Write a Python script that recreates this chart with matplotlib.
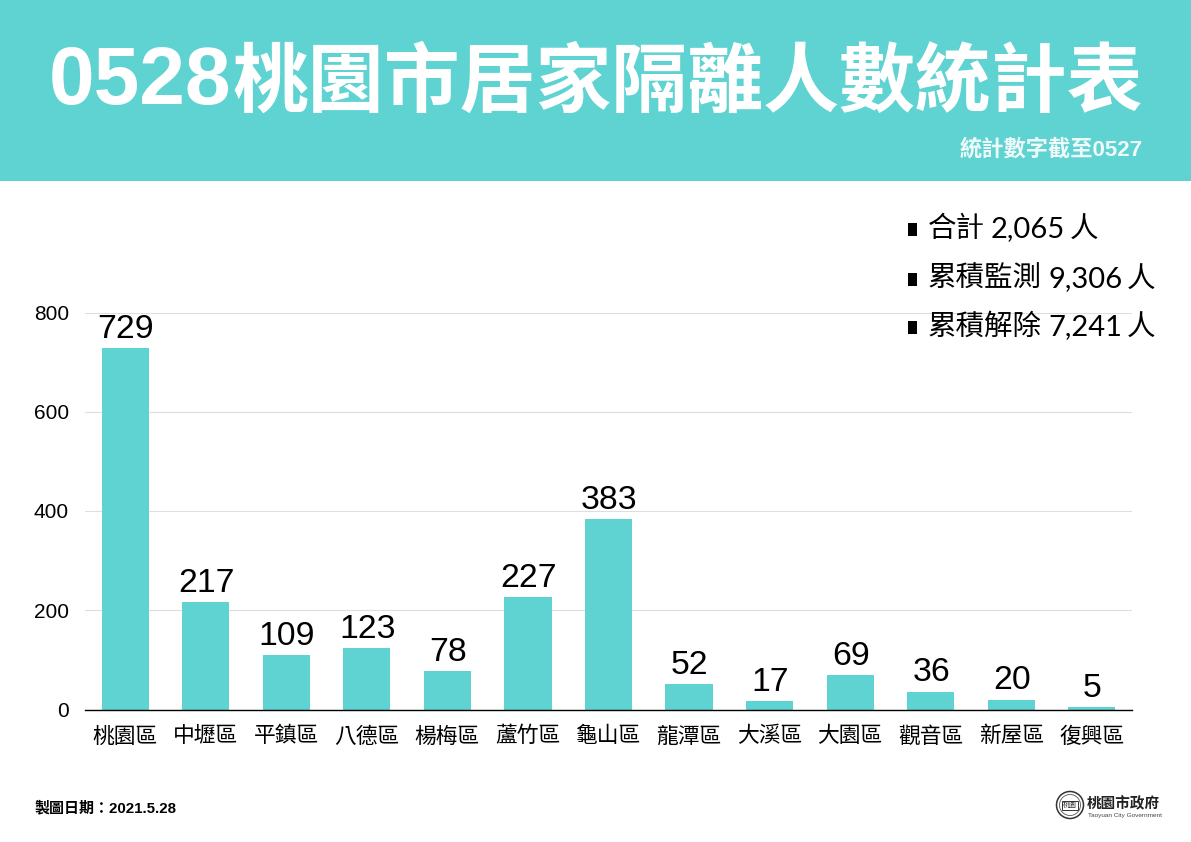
import matplotlib
matplotlib.use('Agg')
import matplotlib.pyplot as plt
from matplotlib.patches import Rectangle, Circle

plt.rcParams['font.family'] = ['Noto Sans CJK TC', 'DejaVu Sans']

W, H = 1191, 842
TEAL = '#5fd2d2'
LATIN_CJK = ['Liberation Sans', 'Noto Sans CJK TC']

districts = ['桃園區', '中壢區', '平鎮區', '八德區', '楊梅區', '蘆竹區', '龜山區',
             '龍潭區', '大溪區', '大園區', '觀音區', '新屋區', '復興區']
counts = [729, 217, 109, 123, 78, 227, 383, 52, 17, 69, 36, 20, 5]
y_ticks = [0, 200, 400, 600, 800]
summary = [('合計', '2,065'), ('累積監測', '9,306'), ('累積解除', '7,241')]
title_date = '0528'
title = '桃園市居家隔離人數統計表'
subtitle = '統計數字截至0527'
made_date = '製圖日期：2021.5.28'


def fx(px):
    return px / W


def fy(py):
    return 1 - py / H


fig = plt.figure(figsize=(W / 100, H / 100), dpi=100, facecolor='white')
renderer = fig.canvas.get_renderer()

# header band
fig.patches.append(Rectangle((0, fy(181)), 1, 181 / H, transform=fig.transFigure,
                             facecolor=TEAL, edgecolor='none', zorder=0))
fig.text(fx(49), fy(83), title_date, color='white', fontsize=59, fontweight='bold',
         ha='left', va='center', family=['Liberation Sans', 'DejaVu Sans'])
fig.text(fx(1143), fy(83), title, color='white', fontsize=54.6, fontweight='bold',
         ha='right', va='center')
fig.text(fx(1143), fy(150), subtitle, color='white', fontsize=16, fontweight='bold',
         ha='right', va='center', alpha=0.9, family=LATIN_CJK)

# bars
ax = fig.add_axes([fx(85), fy(709.5), 1047 / W, 397 / H])
ax.bar(range(len(counts)), counts, width=0.585, color=TEAL, zorder=2)
ax.set_xlim(-0.5, len(counts) - 0.5)
ax.set_ylim(0, 800)
ax.set_yticks(y_ticks)
ax.set_xticks(range(len(districts)))
ax.set_xticklabels(districts)
ax.tick_params(axis='x', length=0, labelsize=15.7, pad=11.5)
ax.tick_params(axis='y', length=0, labelsize=15, pad=11.5)
for lab in ax.get_yticklabels():
    lab.set_family(['Liberation Sans', 'DejaVu Sans'])
ax.grid(axis='y', color='#dedede', linewidth=0.8, zorder=0)
ax.set_axisbelow(True)
for s in ['top', 'left', 'right']:
    ax.spines[s].set_visible(False)
ax.spines['bottom'].set_color('black')
ax.spines['bottom'].set_linewidth(1.0)
ax.patch.set_alpha(0)

for i, v in enumerate(counts):
    ax.annotate(str(v), (i, v), xytext=(0.4, 2.3), textcoords='offset points', ha='center',
                va='bottom', fontsize=24.3, family=['Liberation Sans', 'DejaVu Sans'],
                zorder=3)

# summary top right
for (name, num), py in zip(summary, [229, 279, 327]):
    fig.patches.append(Rectangle((fx(908), fy(py + 7)), 9 / W, 13 / H,
                                 transform=fig.transFigure, facecolor='black',
                                 edgecolor='none', zorder=5))
    t = fig.text(fx(928), fy(py), name, fontsize=20.5, ha='left', va='center', zorder=6)
    bb = t.get_window_extent(renderer)
    t2 = fig.text(fx(bb.x1 + 6), fy(py), num, fontsize=21, ha='left', va='center',
                  family=['Lato', 'DejaVu Sans'], zorder=6)
    bb2 = t2.get_window_extent(renderer)
    fig.text(fx(bb2.x1 + 5), fy(py), '人', fontsize=20.5, ha='left', va='center', zorder=6)

# footer
fig.text(fx(34), fy(808), made_date, fontsize=10.8, fontweight='bold', ha='left', va='center',
         family=LATIN_CJK)

# city logo
cx, cy = 1070, 805
logo = fig.add_axes([0, 0, 1, 1], zorder=7)
logo.set_xlim(0, W)
logo.set_ylim(H, 0)
logo.axis('off')
logo.add_patch(Circle((cx, cy), 13.5, facecolor='none', edgecolor='#333333', linewidth=1.1))
logo.add_patch(Circle((cx, cy), 10.5, facecolor='none', edgecolor='#555555', linewidth=0.6))
logo.add_patch(Rectangle((cx - 8, cy - 4.5), 16, 9, facecolor='white', edgecolor='#333333',
                         linewidth=0.7))
logo.text(cx, cy, '桃園', fontsize=5, ha='center', va='center', color='#333333')
logo.text(1087, 803, '桃園市政府', fontsize=10.5, fontweight='bold', ha='left', va='center',
          color='#222222')
logo.text(1088, 816, 'Taoyuan City Government', fontsize=4.6, ha='left', va='center',
          color='#444444', family=['Liberation Sans', 'DejaVu Sans'])

fig.savefig('out.png', dpi=100, facecolor='white')
